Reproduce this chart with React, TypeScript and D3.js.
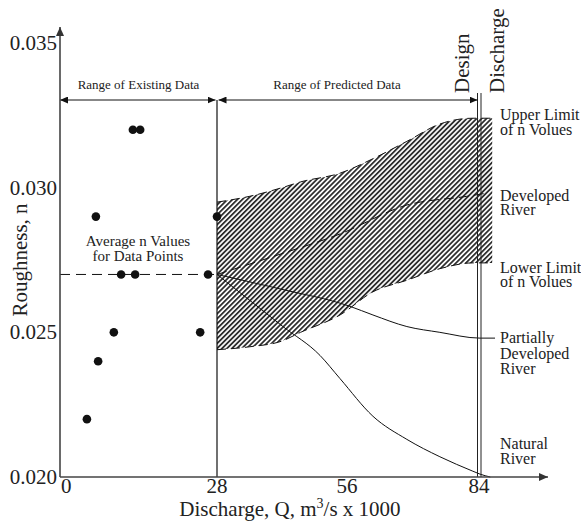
import * as d3 from 'd3';

// axis ticks
const qTicks = [0, 28, 56, 84];
const nTicks = [0.02, 0.025, 0.03, 0.035];

// observed points (Q x1000, n)
const dataQ = [4.8, 6.4, 6.8, 9.6, 10.9, 13.0, 13.4, 14.3, 25.0, 26.4, 28];
const dataN = [0.022, 0.029, 0.024, 0.025, 0.027, 0.032, 0.027, 0.032, 0.025, 0.027, 0.029];

const avgN = 0.027;
const existingEndQ = 28;
const designQ = 84;

// predicted band
const bandQ = [28, 35, 42, 46, 54.5, 61.5, 68.7, 75.7, 82.7, 86.8];
const upperN = [0.0295, 0.0297, 0.03, 0.0302, 0.0305, 0.031, 0.0316, 0.0322, 0.0324, 0.0324];
const lowerN = [0.0244, 0.0245, 0.0247, 0.025, 0.0256, 0.0264, 0.0268, 0.0272, 0.0274, 0.0274];

// river scenarios
const developedQ = [28, 41.6, 54.5, 68.7, 81.4, 85.2];
const developedN = [0.027, 0.0277, 0.0284, 0.0294, 0.0297, 0.0298];
const partialQ = [28, 41.6, 56.6, 61.5, 68.7, 75.7, 84.2, 87.4];
const partialN = [0.027, 0.0265, 0.0259, 0.0256, 0.0252, 0.025, 0.0248, 0.0248];
const naturalQ = [28, 35.1, 42.2, 50.2, 54.5, 61.5, 68.7, 75.7, 82.7, 84.2, 86.4];
const naturalN = [0.027, 0.0261, 0.0252, 0.0242, 0.0234, 0.0221, 0.0213, 0.0207, 0.0202, 0.0201, 0.02];

const W = 581;
const H = 531;
const FONT = 'Liberation Serif';

const x = d3.scaleLinear().domain(qTicks).range([60, 217, 347, 479]);
const y = d3.scaleLinear().domain([0.02, 0.035]).range([477, 43]);

const toPts = (qs: number[], ns: number[]) => qs.map((q, i) => [q, ns[i]] as [number, number]);

const line = d3
  .line<[number, number]>()
  .x(d => x(d[0]))
  .y(d => y(d[1]))
  .curve(d3.curveMonotoneX);

const band = d3
  .area<number>()
  .x(q => x(q))
  .y0((_, i) => y(lowerN[i]))
  .y1((_, i) => y(upperN[i]))
  .curve(d3.curveMonotoneX);

export default function App() {
  const x0 = x(0);
  const yBase = y(0.02);
  const xE = x(existingEndQ);
  const xD = x(designQ);
  const arrowY = 100;

  return (
    <svg width={W} height={H} style={{ position: 'absolute', left: 0, top: 0, background: '#fff' }}>
      <defs>
        <pattern id="hatch" width="3.5" height="3.5" patternUnits="userSpaceOnUse" patternTransform="rotate(45)">
          <rect x="0" y="0" width="1.8" height="3.5" fill="#2e2e2e" />
        </pattern>
        <marker id="ah" viewBox="0 0 8 7" refX="8" refY="3.5" markerWidth="8" markerHeight="7"
          markerUnits="userSpaceOnUse" orient="auto-start-reverse">
          <path d="M0,0 L8,3.5 L0,7 z" fill="#111" />
        </marker>
        <marker id="axh" viewBox="0 0 9 8" refX="9" refY="4" markerWidth="9" markerHeight="8"
          markerUnits="userSpaceOnUse" orient="auto-start-reverse">
          <path d="M0,0 L9,4 L0,8 z" fill="#333" />
        </marker>
      </defs>

      {/* hatched band of predicted values */}
      <path d={band(bandQ) ?? ''} fill="url(#hatch)" stroke="none" />
      <path d={line(toPts(bandQ, upperN)) ?? ''} fill="none" stroke="#111" strokeWidth={1} strokeDasharray="9,5" />
      <path d={line(toPts(bandQ, lowerN)) ?? ''} fill="none" stroke="#111" strokeWidth={1} strokeDasharray="9,5" />

      {/* scenario curves */}
      <path d={line(toPts(developedQ, developedN)) ?? ''} fill="none" stroke="#111" strokeWidth={1} strokeDasharray="10,5" />
      <path d={line(toPts(partialQ, partialN)) ?? ''} fill="none" stroke="#111" strokeWidth={1} />
      <path d={line(toPts(naturalQ, naturalN)) ?? ''} fill="none" stroke="#111" strokeWidth={1} />

      {/* average of data */}
      <line x1={x0} x2={xE} y1={y(avgN)} y2={y(avgN)} stroke="#111" strokeWidth={1} strokeDasharray="10,6" />

      {/* end of existing data */}
      <line x1={xE} x2={xE} y1={arrowY} y2={yBase} stroke="#111" strokeWidth={1.2} />

      {/* design discharge double line */}
      <line x1={xD - 1.5} x2={xD - 1.5} y1={93} y2={yBase} stroke="#222" strokeWidth={1} />
      <line x1={xD + 2} x2={xD + 2} y1={93} y2={yBase} stroke="#222" strokeWidth={1} />

      {/* range arrows */}
      <line x1={x0} x2={xE - 1.5} y1={arrowY} y2={arrowY} stroke="#111" strokeWidth={1}
        markerStart="url(#ah)" markerEnd="url(#ah)" />
      <line x1={xE + 1.5} x2={xD - 1.5} y1={arrowY} y2={arrowY} stroke="#111" strokeWidth={1}
        markerStart="url(#ah)" markerEnd="url(#ah)" />

      {/* data points */}
      {dataQ.map((q, i) => (
        <circle key={i} cx={x(q)} cy={y(dataN[i])} r={4.3} fill="#111" />
      ))}

      {/* axes */}
      <line x1={x0} x2={x0} y1={yBase} y2={27} stroke="#444" strokeWidth={1.6} markerEnd="url(#axh)" />
      <line x1={x0} x2={548} y1={yBase} y2={yBase} stroke="#444" strokeWidth={1.6} markerEnd="url(#axh)" />

      <g fontFamily={FONT} fill="#222">
        <text x={(x0 + xE) / 2} y={89} fontSize={13} textAnchor="middle" fontFamily={FONT}>Range of Existing Data</text>
        <text x={337} y={89} fontSize={13} textAnchor="middle" fontFamily={FONT}>Range of Predicted Data</text>

        <text x={138} y={246} fontSize={15} textAnchor="middle" fontFamily={FONT}>Average n Values</text>
        <text x={138} y={261} fontSize={15} textAnchor="middle" fontFamily={FONT}>for Data Points</text>

        {nTicks.map(t => (
          <text key={t} x={57} y={y(t) + 7} fontSize={21} textAnchor="end" fontFamily={FONT}>
            {d3.format('.3f')(t)}
          </text>
        ))}
        {qTicks.map((t, i) => (
          <text key={t} x={i === 0 ? x(t) + 1 : x(t)} y={493} fontSize={21}
            textAnchor={i === 0 ? 'start' : 'middle'} fontFamily={FONT}>
            {t}
          </text>
        ))}

        <text x={290} y={516} fontSize={21} textAnchor="middle" fontFamily={FONT}>
          Discharge, Q, m<tspan dy={-8} fontSize={14}>3</tspan>
          <tspan dy={8}>/s x 1000</tspan>
        </text>
        <text transform="translate(27,260) rotate(-90)" fontSize={21} textAnchor="middle" fontFamily={FONT}>
          Roughness, n
        </text>

        {/* design discharge label */}
        <text transform="translate(469,93) rotate(-90)" fontSize={21} fontFamily={FONT}>Design</text>
        <text transform="translate(504,93) rotate(-90)" fontSize={21} fontFamily={FONT}>Discharge</text>

        {/* right-side annotations */}
        <g fontSize={16}>
          <text x={500} y={120} fontFamily={FONT}>Upper Limit</text>
          <text x={500} y={135} fontFamily={FONT}>of n Volues</text>
          <text x={500} y={201} fontFamily={FONT}>Developed</text>
          <text x={500} y={215} fontFamily={FONT}>River</text>
          <text x={500} y={273} fontFamily={FONT}>Lower Limit</text>
          <text x={500} y={287} fontFamily={FONT}>of n Volues</text>
          <text x={500} y={343} fontFamily={FONT}>Partially</text>
          <text x={500} y={359} fontFamily={FONT}>Developed</text>
          <text x={500} y={374} fontFamily={FONT}>River</text>
          <text x={500} y={449} fontFamily={FONT}>Natural</text>
          <text x={500} y={464} fontFamily={FONT}>River</text>
        </g>
      </g>
    </svg>
  );
}
